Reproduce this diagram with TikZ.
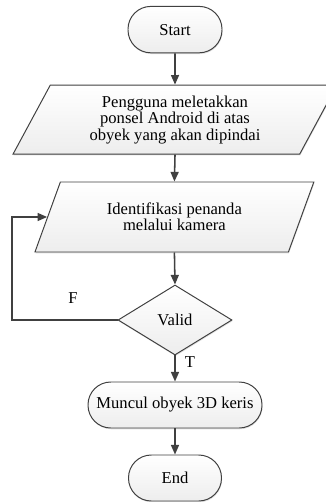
\documentclass[tikz,border=0pt]{standalone}
\usepackage{fontspec}
\setmainfont{Liberation Serif}
\usetikzlibrary{arrows.meta}
\usetikzlibrary{shapes.geometric}
\usetikzlibrary{shadows}
\definecolor{linegray}{HTML}{404040}

\begin{document}
\begin{tikzpicture}[
    font=\fontsize{11.8}{11.7}\selectfont,
    box/.style={draw=linegray, line width=0.7pt, top color=white, bottom color=gray!14,
      drop shadow={shadow xshift=0.4pt, shadow yshift=-0.9pt, fill=gray!40, opacity=0.6}},
    terminal/.style={box, rectangle, rounded corners=0.57cm, minimum height=1.16cm, inner sep=0pt},
    io/.style={box, trapezium, trapezium left angle=62, trapezium right angle=118,
      trapezium stretches=true, align=center, inner sep=0pt},
    decision/.style={box, diamond, aspect=1.63, inner sep=0pt, minimum width=2.85cm, minimum height=1.75cm},
    flow/.style={draw=linegray, line width=1.1pt, -{Triangle[length=0.24cm, width=0.2cm]}}
  ]
    \useasboundingbox (0, 0) rectangle (8.15, -12.55);

    \node [terminal, minimum width=2.35cm] (start) at (4.375, -0.74) {Start};
    \node [io, minimum width=8.1cm, minimum height=1.725cm] (place) at (4.375, -2.99)
      {Pengguna meletakkan\\ponsel Android di atas\\obyek yang akan dipindai};
    \node [io, minimum width=6.975cm, minimum height=1.75cm] (ident) at (4.36, -5.425)
      {Identifikasi penanda\\melalui kamera};
    \node [decision] (valid) at (4.375, -8.0) {Valid};
    \node [terminal, minimum width=4.35cm, minimum height=1.15cm] (show) at (4.375, -10.125) {Muncul obyek 3D keris};
    \node [terminal, minimum width=2.325cm, minimum height=1.15cm] (stop) at (4.375, -11.95) {End};

    \coordinate (back) at (0.3, -8.0);

    \draw [flow] (start.south) -- (place.north);
    \draw [flow] (place.south) -- (ident.north);
    \draw [flow] (ident.south) -- (valid.north);
    \draw [flow] (valid.south) -- (show.north);
    \draw [flow] (show.south) -- (stop.north);
    \draw [flow] (valid.west) -- (back) |- (ident.west);

    \node (false) at (1.825, -7.45) {F};
    \node (true) at (4.75, -9.05) {T};
  \end{tikzpicture}
\end{document}
